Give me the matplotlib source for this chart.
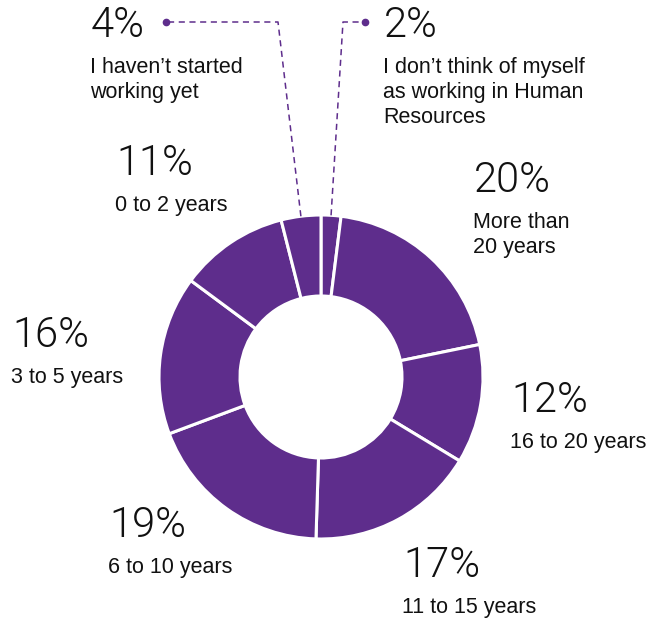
import matplotlib
matplotlib.use("agg")

from matplotlib import pyplot as plt
import numpy as np

# years working in HR, clockwise from the top
labels = [
    "I don\u2019t think of myself\nas working in Human\nResources",
    "More than\n20 years",
    "16 to 20 years",
    "11 to 15 years",
    "6 to 10 years",
    "3 to 5 years",
    "0 to 2 years",
    "I haven\u2019t started\nworking yet",
]
shares = [2, 20, 12, 17, 19, 16, 11, 4]

# text anchor (left x, baseline of the percentage) in pixels from top-left
label_pos = [(383, 37), (473, 192), (510, 412), (402, 577),
             (108, 537), (11, 347), (115, 175), (90, 37)]
# slices whose label sits up top get a dashed leader
leaders = {0: (343, 22, 365), 7: (278, 22, 166)}

W, H = 649, 624
purple = "#5e2d8c"

fig = plt.figure(figsize=(W / 100, H / 100), dpi=100)
ax = fig.add_axes([0, 0, 1, 1])

cx, cy, r = 321, H - 377, 162
wedges, _ = ax.pie(shares, center=(cx, cy), radius=r, startangle=90,
                   counterclock=False, colors=[purple] * len(shares),
                   wedgeprops=dict(width=r * 0.5, edgecolor="white", linewidth=2.2))
ax.set_xlim(0, W)
ax.set_ylim(0, H)
ax.set_aspect("auto")
ax.axis("off")

total = sum(shares)
cum = np.cumsum([0] + shares)

for i, (lab, val) in enumerate(zip(labels, shares)):
    x, yb = label_pos[i]
    ax.text(x + 1, H - yb, f"{val}%", fontsize=30, family=["Roboto", "DejaVu Sans"],
            fontweight=300, color="#111111", ha="left", va="baseline")
    for k, line in enumerate(lab.split("\n")):
        ax.text(x, H - (yb + 36 + 25 * k), line, fontsize=15.5,
                family=["Liberation Sans", "DejaVu Sans"], color="#111111",
                ha="left", va="baseline")

    if i in leaders:
        mid = (cum[i] + val / 2) / total * 2 * np.pi
        sx, sy = cx + r * np.sin(mid), cy + r * np.cos(mid)
        kx, ky, dx = leaders[i]
        ax.plot([sx, kx, dx], [sy, H - ky, H - ky], color=purple, lw=1.1,
                dashes=(4, 3), solid_capstyle="butt")
        ax.plot([dx], [H - ky], "o", color=purple, markersize=4.5)

fig.savefig("out.png", dpi=100)
